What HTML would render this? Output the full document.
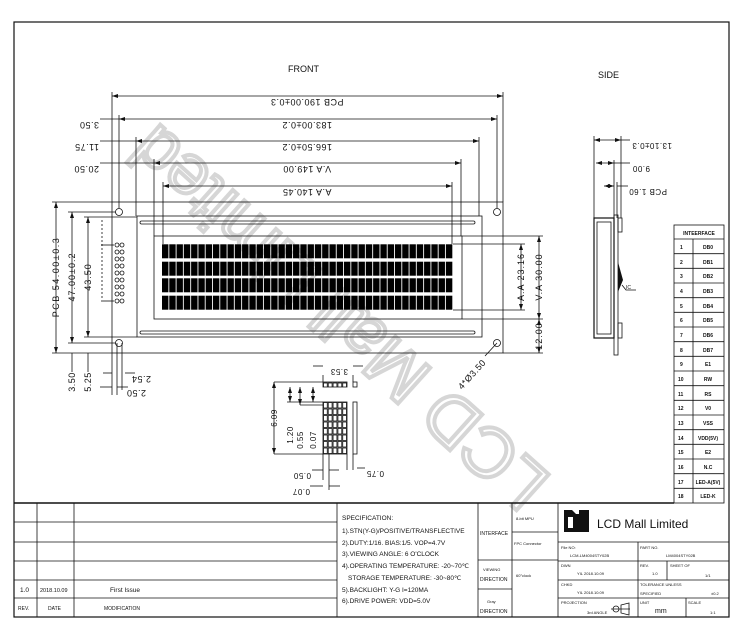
<!DOCTYPE html>
<html><head><meta charset="utf-8"><style>
html,body{margin:0;padding:0;background:#fff;width:742px;height:633px;overflow:hidden}
svg{display:block}
text{font-family:"Liberation Sans",sans-serif;fill:#111}
.d{font-size:9px;letter-spacing:0.5px}
.s{font-size:6.5px}
.t{font-size:5px}
</style></head><body>
<svg width="742" height="633" viewBox="0 0 742 633" xmlns="http://www.w3.org/2000/svg">
<defs>
<marker id="a" markerWidth="6" markerHeight="4" refX="6" refY="2" orient="auto-start-reverse" markerUnits="userSpaceOnUse"><path d="M0,0 L6,2 L0,4z" fill="#111"/></marker>
<pattern id="ch" x="162" y="0" width="7.28" height="20" patternUnits="userSpaceOnUse"><rect x="0" y="0" width="6.4" height="20" fill="#000"/></pattern>
<pattern id="gr" x="323" y="402" width="4.8" height="6.5" patternUnits="userSpaceOnUse"><rect x="0.5" y="0.5" width="3.8" height="5.5" fill="#fff" stroke="#111" stroke-width="0.8"/></pattern>
</defs>

<rect x="14" y="22" width="715" height="595" fill="none" stroke="#111" stroke-width="1.2"/>

<!-- watermark -->
<text x="0" y="0" transform="translate(355,300) rotate(222)" text-anchor="middle" style="font-size:70px;fill:none;stroke:#d6d6d6;stroke-width:4;font-family:'Liberation Sans',sans-serif">LCD Mall Limited</text>

<text x="288" y="72" style="font-size:9px">FRONT</text>
<text x="598" y="78" style="font-size:9px">SIDE</text>

<g stroke="#111" stroke-width="0.8" fill="none">
<rect x="112" y="202" width="391" height="151"/>
<circle cx="119" cy="212" r="3.5"/><circle cx="119" cy="343" r="3.5"/>
<circle cx="497" cy="212" r="3.5"/><circle cx="497" cy="343" r="3.5"/>
<rect x="137" y="216" width="345" height="121"/>
<rect x="140" y="221" width="335" height="3" rx="1.5"/>
<rect x="140" y="331" width="335" height="3" rx="1.5"/>
<rect x="154" y="236" width="308" height="83"/>
<line x1="112" y1="92" x2="112" y2="202"/><line x1="503" y1="92" x2="503" y2="202"/>
<line x1="119" y1="115" x2="119" y2="208"/><line x1="497" y1="115" x2="497" y2="208"/>
<line x1="136" y1="137" x2="136" y2="216"/><line x1="479" y1="137" x2="479" y2="216"/>
<line x1="154" y1="159" x2="154" y2="236"/><line x1="461" y1="159" x2="461" y2="236"/>
<line x1="163" y1="182" x2="163" y2="244"/><line x1="452" y1="182" x2="452" y2="244"/>
<line x1="52" y1="202" x2="112" y2="202"/><line x1="52" y1="353" x2="112" y2="353"/>
<line x1="68" y1="212" x2="116" y2="212"/><line x1="68" y1="343" x2="116" y2="343"/>
<line x1="84" y1="217" x2="137" y2="217"/><line x1="84" y1="337" x2="137" y2="337"/>
<line x1="453" y1="244" x2="525" y2="244"/><line x1="453" y1="310" x2="525" y2="310"/>
<line x1="462" y1="236" x2="543" y2="236"/><line x1="462" y1="319" x2="543" y2="319"/>
<line x1="503" y1="353" x2="543" y2="353"/>
<line x1="112" y1="353" x2="112" y2="395"/><line x1="117" y1="343" x2="117" y2="395"/><line x1="122" y1="343" x2="122" y2="390"/>
</g>
<rect x="162" y="244.3" width="291" height="14" fill="url(#ch)"/>
<rect x="162" y="261.7" width="291" height="14" fill="url(#ch)"/>
<rect x="162" y="278.3" width="291" height="14" fill="url(#ch)"/>
<rect x="162" y="295.7" width="291" height="14" fill="url(#ch)"/>
<g fill="#fff" stroke="#111" stroke-width="0.8">
<circle cx="117" cy="245" r="2"/><circle cx="122" cy="245" r="2"/>
<circle cx="117" cy="252" r="2"/><circle cx="122" cy="252" r="2"/>
<circle cx="117" cy="259" r="2"/><circle cx="122" cy="259" r="2"/>
<circle cx="117" cy="266" r="2"/><circle cx="122" cy="266" r="2"/>
<circle cx="117" cy="273" r="2"/><circle cx="122" cy="273" r="2"/>
<circle cx="117" cy="280" r="2"/><circle cx="122" cy="280" r="2"/>
<circle cx="117" cy="287" r="2"/><circle cx="122" cy="287" r="2"/>
<circle cx="117" cy="294" r="2"/><circle cx="122" cy="294" r="2"/>
<circle cx="117" cy="301" r="2"/><circle cx="122" cy="301" r="2"/>
</g>
<g stroke="#111" stroke-width="0.8"><line x1="101" y1="245" x2="114" y2="245"/><line x1="101" y1="301" x2="114" y2="301"/><line x1="102" y1="220" x2="102" y2="300" stroke-dasharray="2,2"/></g>

<g stroke="#111" stroke-width="0.8" marker-start="url(#a)" marker-end="url(#a)">
<line x1="112" y1="96" x2="503" y2="96"/>
<line x1="119" y1="119" x2="497" y2="119"/>
<line x1="136" y1="141" x2="479" y2="141"/>
<line x1="154" y1="163" x2="461" y2="163"/>
<line x1="163" y1="186" x2="452" y2="186"/>
<line x1="56" y1="202" x2="56" y2="353"/>
<line x1="72" y1="212" x2="72" y2="343"/>
<line x1="88" y1="217" x2="88" y2="337"/>
<line x1="521" y1="244" x2="521" y2="310"/>
<line x1="539" y1="236" x2="539" y2="319"/>
<line x1="539" y1="319" x2="539" y2="353"/>
</g>
<g stroke="#111" stroke-width="0.8">
<line x1="100" y1="119" x2="119" y2="119"/><line x1="100" y1="141" x2="136" y2="141"/><line x1="100" y1="163" x2="154" y2="163"/>
<line x1="72" y1="353" x2="72" y2="372"/><line x1="88" y1="353" x2="88" y2="372"/>
<line x1="103" y1="373" x2="112" y2="373"/><line x1="125" y1="373" x2="135" y2="373"/>
<line x1="100" y1="387" x2="112" y2="387"/><line x1="117" y1="387" x2="128" y2="387"/>
<line x1="497" y1="343" x2="485" y2="356"/>
</g>
<g class="d">
<text transform="translate(307,96) rotate(180)" text-anchor="middle" dy="-3">PCB 190.00±0.3</text>
<text transform="translate(307,119) rotate(180)" text-anchor="middle" dy="-3">183.00±0.2</text>
<text transform="translate(307,141) rotate(180)" text-anchor="middle" dy="-3">166.50±0.2</text>
<text transform="translate(307,163) rotate(180)" text-anchor="middle" dy="-3">V.A 149.00</text>
<text transform="translate(307,186) rotate(180)" text-anchor="middle" dy="-3">A.A 140.45</text>
<text transform="translate(99,119) rotate(180)" dy="-3">3.50</text>
<text transform="translate(99,141) rotate(180)" dy="-3">11.75</text>
<text transform="translate(99,163) rotate(180)" dy="-3">20.50</text>
<text transform="translate(59,277) rotate(-90)" text-anchor="middle" style="letter-spacing:1.5px">PCB 54.00±0.3</text>
<text transform="translate(75,277) rotate(-90)" text-anchor="middle" style="letter-spacing:1px">47.00±0.2</text>
<text transform="translate(91,277) rotate(-90)" text-anchor="middle" style="letter-spacing:1px">43.50</text>
<text transform="translate(524,277) rotate(-90)" text-anchor="middle" style="letter-spacing:1px">A.A 23.16</text>
<text transform="translate(542,277) rotate(-90)" text-anchor="middle" style="letter-spacing:1px">V.A 30.00</text>
<text transform="translate(542,336) rotate(-90)" text-anchor="middle" style="letter-spacing:1px">12.00</text>
<text transform="translate(75,382) rotate(-90)" text-anchor="middle">3.50</text>
<text transform="translate(91,382) rotate(-90)" text-anchor="middle">5.25</text>
<text transform="translate(151,373) rotate(180)" dy="-3">2.54</text>
<text transform="translate(146,387) rotate(180)" dy="-3">2.50</text>
<text transform="translate(462,390) rotate(-48)">4*Ø3.50</text>
</g>

<g stroke="#111" stroke-width="0.8" fill="none">
<rect x="323" y="382" width="24" height="5" fill="url(#gr)"/>
<rect x="353" y="382" width="4" height="5"/>
<rect x="323" y="402" width="24" height="52" fill="url(#gr)"/>
<rect x="353" y="402" width="4" height="52"/>
<line x1="274" y1="382" x2="323" y2="382"/><line x1="274" y1="454" x2="323" y2="454"/>
<line x1="287" y1="402" x2="323" y2="402"/><line x1="300" y1="405" x2="323" y2="405"/>
<line x1="323" y1="454" x2="323" y2="480"/><line x1="329" y1="454" x2="329" y2="490"/><line x1="347" y1="454" x2="347" y2="470"/><line x1="353" y1="454" x2="353" y2="470"/>
<line x1="323" y1="375" x2="323" y2="382"/><line x1="353" y1="375" x2="353" y2="382"/>
</g>
<g stroke="#111" stroke-width="0.8" marker-start="url(#a)" marker-end="url(#a)">
<line x1="274" y1="382" x2="274" y2="454"/>
<line x1="290" y1="402" x2="290" y2="387"/>
<line x1="300" y1="405" x2="300" y2="387"/>
<line x1="313" y1="387" x2="313" y2="402"/>
</g>
<g stroke="#111" stroke-width="0.8">
<line x1="313" y1="366" x2="323" y2="366"/><line x1="353" y1="366" x2="363" y2="366"/>
<line x1="312" y1="470" x2="323" y2="470"/><line x1="329" y1="470" x2="339" y2="470"/>
<line x1="310" y1="486" x2="323" y2="486"/><line x1="329" y1="486" x2="340" y2="486"/>
<line x1="357" y1="468" x2="365" y2="468"/>
</g>
<g class="d" style="font-size:8px">
<text transform="translate(348,366) rotate(180)" dy="-3">3.53</text>
<text transform="translate(277,418) rotate(-90)" text-anchor="middle">6.09</text>
<text transform="translate(293,435) rotate(-90)" text-anchor="middle">1.20</text>
<text transform="translate(303,440) rotate(-90)" text-anchor="middle">0.55</text>
<text transform="translate(316,440) rotate(-90)" text-anchor="middle">0.07</text>
<text transform="translate(311,470) rotate(180)" dy="-3">0.50</text>
<text transform="translate(310,486) rotate(180)" dy="-3">0.07</text>
<text transform="translate(384,468) rotate(180)" dy="-3">0.75</text>
</g>

<g stroke="#111" stroke-width="0.8" fill="none">
<line x1="594" y1="136" x2="594" y2="218"/><line x1="621" y1="136" x2="621" y2="218"/>
<line x1="614" y1="160" x2="614" y2="218"/><line x1="617" y1="182" x2="617" y2="218"/>
<rect x="594" y="218" width="20" height="120" stroke-width="1.2"/>
<rect x="597" y="222" width="14" height="112"/>
<rect x="614" y="215" width="4" height="140"/>
<rect x="618" y="218" width="4" height="14"/>
<rect x="618" y="323" width="4" height="15"/>
<polyline points="622,285 626,290 636,290"/>
</g>
<path d="M618,262 L623,280 L618,292z" fill="#111"/>
<text x="626" y="289" class="t">IC</text>
<g stroke="#111" stroke-width="0.8" marker-start="url(#a)" marker-end="url(#a)">
<line x1="594" y1="140" x2="621" y2="140"/>
<line x1="596" y1="163" x2="614" y2="163"/>
<line x1="604" y1="186" x2="614" y2="186"/>
</g>
<g stroke="#111" stroke-width="0.8"><line x1="621" y1="140" x2="630" y2="140"/><line x1="614" y1="163" x2="630" y2="163"/><line x1="617" y1="186" x2="628" y2="186"/></g>
<g class="d" style="font-size:8px">
<text transform="translate(672,140) rotate(180)" dy="-3">13.10±0.3</text>
<text transform="translate(650,163) rotate(180)" dy="-3">9.00</text>
<text transform="translate(667,186) rotate(180)" dy="-3">PCB 1.60</text>
</g>

<g stroke="#111" stroke-width="0.8" fill="none">
<rect x="674" y="225" width="50" height="278"/>
<line x1="674" y1="239" x2="724" y2="239"/>
<line x1="693" y1="239" x2="693" y2="503"/>
<line x1="674" y1="253.7" x2="724" y2="253.7"/><line x1="674" y1="268.3" x2="724" y2="268.3"/><line x1="674" y1="283" x2="724" y2="283"/><line x1="674" y1="297.7" x2="724" y2="297.7"/><line x1="674" y1="312.3" x2="724" y2="312.3"/><line x1="674" y1="327" x2="724" y2="327"/><line x1="674" y1="341.7" x2="724" y2="341.7"/><line x1="674" y1="356.3" x2="724" y2="356.3"/><line x1="674" y1="371" x2="724" y2="371"/><line x1="674" y1="385.7" x2="724" y2="385.7"/><line x1="674" y1="400.3" x2="724" y2="400.3"/><line x1="674" y1="415" x2="724" y2="415"/><line x1="674" y1="429.7" x2="724" y2="429.7"/><line x1="674" y1="444.3" x2="724" y2="444.3"/><line x1="674" y1="459" x2="724" y2="459"/><line x1="674" y1="473.7" x2="724" y2="473.7"/><line x1="674" y1="488.3" x2="724" y2="488.3"/>
</g>
<g class="t" style="font-weight:bold">
<text x="699" y="235" text-anchor="middle">INTEERFACE</text>
<text x="680" y="249">1</text><text x="708" y="249" text-anchor="middle">DB0</text>
<text x="680" y="264">2</text><text x="708" y="264" text-anchor="middle">DB1</text>
<text x="680" y="278">3</text><text x="708" y="278" text-anchor="middle">DB2</text>
<text x="680" y="293">4</text><text x="708" y="293" text-anchor="middle">DB3</text>
<text x="680" y="308">5</text><text x="708" y="308" text-anchor="middle">DB4</text>
<text x="680" y="322">6</text><text x="708" y="322" text-anchor="middle">DB5</text>
<text x="680" y="337">7</text><text x="708" y="337" text-anchor="middle">DB6</text>
<text x="680" y="352">8</text><text x="708" y="352" text-anchor="middle">DB7</text>
<text x="680" y="366">9</text><text x="708" y="366" text-anchor="middle">E1</text>
<text x="678" y="381">10</text><text x="708" y="381" text-anchor="middle">RW</text>
<text x="678" y="396">11</text><text x="708" y="396" text-anchor="middle">RS</text>
<text x="678" y="410">12</text><text x="708" y="410" text-anchor="middle">V0</text>
<text x="678" y="425">13</text><text x="708" y="425" text-anchor="middle">VSS</text>
<text x="678" y="440">14</text><text x="708" y="440" text-anchor="middle">VDD(5V)</text>
<text x="678" y="454">15</text><text x="708" y="454" text-anchor="middle">E2</text>
<text x="678" y="469">16</text><text x="708" y="469" text-anchor="middle">N.C</text>
<text x="678" y="484">17</text><text x="708" y="484" text-anchor="middle">LED-A(5V)</text>
<text x="678" y="498">18</text><text x="708" y="498" text-anchor="middle">LED-K</text>
</g>

<g stroke="#111" stroke-width="0.8" fill="none">
<line x1="14" y1="503" x2="674" y2="503" stroke-width="1.6"/>
<line x1="14" y1="522" x2="337" y2="522"/><line x1="14" y1="542" x2="337" y2="542"/><line x1="14" y1="561" x2="337" y2="561"/><line x1="14" y1="580" x2="337" y2="580"/><line x1="14" y1="598" x2="337" y2="598"/>
<line x1="37" y1="503" x2="37" y2="617"/><line x1="74" y1="503" x2="74" y2="617"/><line x1="337" y1="503" x2="337" y2="617"/>
<line x1="478" y1="503" x2="478" y2="617"/><line x1="512" y1="503" x2="512" y2="617"/><line x1="558" y1="503" x2="558" y2="617"/>
<line x1="512" y1="532" x2="558" y2="532"/>
<line x1="478" y1="560" x2="558" y2="560"/><line x1="478" y1="589" x2="512" y2="589"/>
<line x1="558" y1="542" x2="729" y2="542"/><line x1="558" y1="561" x2="729" y2="561"/><line x1="558" y1="580" x2="729" y2="580"/><line x1="558" y1="598" x2="729" y2="598"/>
<line x1="638" y1="542" x2="638" y2="617"/><line x1="667" y1="561" x2="667" y2="580"/><line x1="686" y1="598" x2="686" y2="617"/>
</g>
<g class="s">
<text x="20" y="592">1.0</text><text x="40" y="592" style="font-size:5.5px">2018.10.09</text><text x="110" y="592">First Issue</text>
<text x="18" y="610" class="t">REV.</text><text x="48" y="610" class="t">DATE</text><text x="104" y="610" class="t">MODIFICATION</text>
<text x="342" y="520">SPECIFICATION:</text>
<text x="342" y="533">1).STN(Y-G)/POSITIVE/TRANSFLECTIVE</text>
<text x="342" y="545">2).DUTY:1/16. BIAS:1/5. VOP=4.7V</text>
<text x="342" y="556">3).VIEWING ANGLE: 6 O'CLOCK</text>
<text x="342" y="568">4).OPERATING TEMPERATURE: -20~70℃</text>
<text x="348" y="580">STORAGE TEMPERATURE: -30~80℃</text>
<text x="342" y="592">5).BACKLIGHT: Y-G  I=120MA</text>
<text x="342" y="603">6).DRIVE POWER: VDD=5.0V</text>
<text x="480" y="535" class="t">INTERFACE</text>
<text x="516" y="520" class="t" style="font-size:4px">8-bit MPU</text>
<text x="514" y="545" class="t" style="font-size:4px">FPC Connector</text>
<text x="483" y="571" class="t" style="font-size:4px">VIEWING</text>
<text x="480" y="581" class="t">DIRECTION</text>
<text x="516" y="577" class="t" style="font-size:4px">60°clock</text>
<text x="487" y="603" class="t" style="font-size:4px">Gray</text>
<text x="480" y="613" class="t">DIRECTION</text>
</g>
<path d="M564,510 h8 l4,4 h3 v-4 h10 v22 h-25z" fill="#111"/>
<rect x="568" y="517" width="5" height="11" fill="#fff"/>
<text x="597" y="528" style="font-size:12px">LCD Mall Limited</text>
<g style="font-size:4px">
<text x="561" y="549">File NO:</text><text x="570" y="557">LCM-LM4004STY02B</text>
<text x="640" y="549">PART NO.</text><text x="666" y="557">LM4004STY02B</text>
<text x="561" y="567">DWN</text><text x="577" y="575">YIL 2018.10.09</text>
<text x="640" y="567">REV.</text><text x="652" y="575">1.0</text><text x="670" y="567">SHEET OF</text><text x="705" y="577">1/1</text>
<text x="561" y="586">CHKD</text><text x="577" y="594">YIL 2018.10.09</text>
<text x="640" y="586">TOLERANCE UNLESS</text><text x="640" y="595">SPECIFIED</text><text x="711" y="595">±0.2</text>
<text x="561" y="604">PROJECTION</text><text x="587" y="614">3rd ANGLE</text>
<text x="640" y="604">UNIT</text><text x="688" y="604">SCALE</text><text x="710" y="614">1:1</text>
</g>
<text x="655" y="613" style="font-size:7px">mm</text>
<g stroke="#111" stroke-width="0.8" fill="none"><circle cx="616" cy="609" r="3"/><path d="M621,605 L629,603 L629,615 L621,613z"/><line x1="611" y1="609" x2="630" y2="609"/></g>
</svg>
</body></html>
